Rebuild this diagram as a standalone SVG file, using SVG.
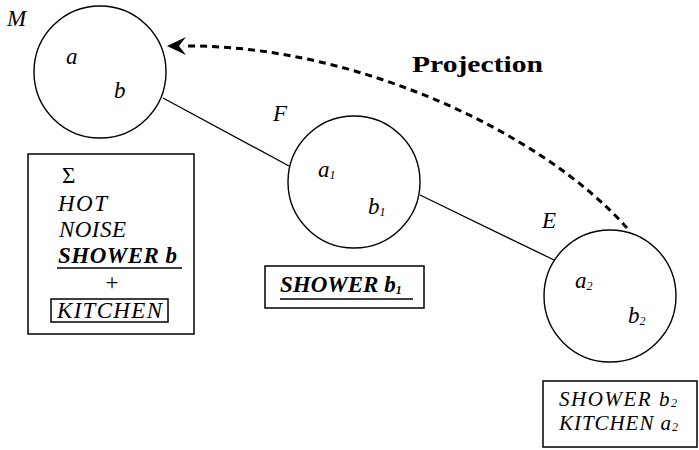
<svg xmlns="http://www.w3.org/2000/svg" width="699" height="450" viewBox="0 0 699 450">
<style>
.c{fill:none;stroke:#000;stroke-width:1.4}
.ln{fill:none;stroke:#000;stroke-width:1.3}
.box{fill:none;stroke:#000;stroke-width:1.5}
.t{font-family:"Liberation Serif","Times New Roman",serif;font-style:italic;font-size:23px;fill:#000}
.b{font-weight:bold}
.sm{font-size:21px}
.sub{font-size:12px}
.proj{font-family:"Liberation Serif","Times New Roman",serif;font-weight:bold;font-size:24px;fill:#000}
.dash{fill:none;stroke:#000;stroke-width:3;stroke-dasharray:7 5}
</style>
<rect width="699" height="450" fill="#fff"/>
<g id="connectors">
<line class="ln" x1="163" y1="98" x2="289" y2="166"/>
<line class="ln" x1="420" y1="195" x2="554" y2="260"/>
<path class="dash" d="M627,228 C540,130 350,44 183,46"/>
<path d="M186,37 L167,46 L186,55 L179,46 Z" fill="#000"/>
</g>
<g id="label-projection">
<text class="proj" x="412" y="72" textLength="131" lengthAdjust="spacingAndGlyphs">Projection</text>
</g>
<g id="node-M">
<circle class="c" cx="100" cy="72" r="66"/>
<text class="t" x="7" y="26">M</text>
<text class="t" x="66" y="64">a</text>
<text class="t" x="114" y="98">b</text>
</g>
<g id="box-M">
<rect class="box" x="28" y="154" width="166" height="180"/>
<text class="t" x="62" y="183" style="font-style:normal">Σ</text>
<text class="t" x="58" y="211" textLength="49">HOT</text>
<text class="t" x="59" y="237" textLength="67">NOISE</text>
<text class="t b" x="58" y="263" textLength="119">SHOWER b</text>
<line x1="57" y1="268" x2="182" y2="268" stroke="#000" stroke-width="1.5"/>
<text class="t" x="112" y="290" text-anchor="middle" style="font-style:normal">+</text>
<rect class="box" x="51" y="299" width="117" height="23"/>
<text class="t" x="57" y="318" textLength="105">KITCHEN</text>
</g>
<g id="node-F">
<circle class="c" cx="354" cy="182" r="66"/>
<text class="t" x="273" y="121">F</text>
<text class="t" x="318" y="177">a<tspan class="sub" dy="2">1</tspan></text>
<text class="t" x="368" y="214">b<tspan class="sub" dy="2">1</tspan></text>
</g>
<g id="box-F">
<rect class="box" x="265" y="266" width="159" height="42"/>
<text class="t b" x="280" y="292">SHOWER b<tspan class="sub" dy="2">1</tspan></text>
<line x1="280" y1="299" x2="413" y2="299" stroke="#000" stroke-width="1.5"/>
</g>
<g id="node-E">
<circle class="c" cx="610" cy="296" r="66"/>
<text class="t" x="542" y="228">E</text>
<text class="t" x="575" y="288">a<tspan class="sub" dy="2">2</tspan></text>
<text class="t" x="628" y="323">b<tspan class="sub" dy="2">2</tspan></text>
</g>
<g id="box-E">
<rect class="box" x="543" y="381" width="154" height="66"/>
<text class="t sm" x="559" y="406" textLength="118">SHOWER b<tspan class="sub" dy="1">2</tspan></text>
<text class="t sm" x="559" y="430" textLength="119">KITCHEN a<tspan class="sub" dy="1">2</tspan></text>
</g>
</svg>
